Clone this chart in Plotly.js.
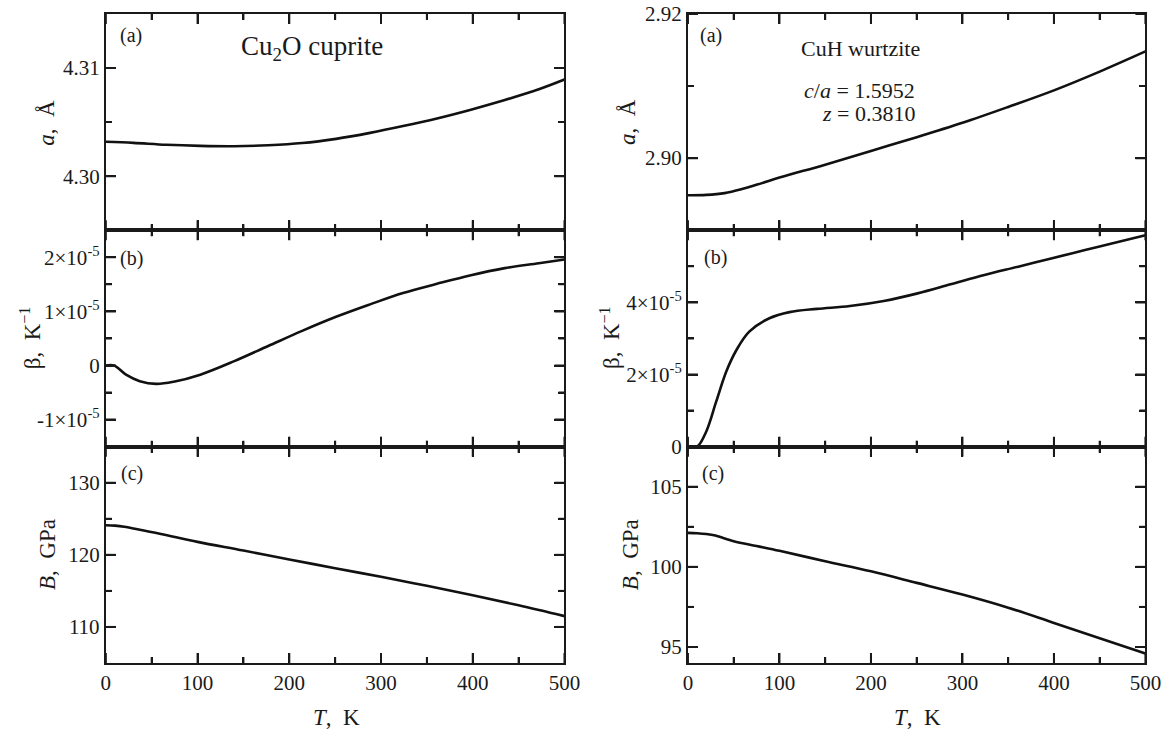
<!DOCTYPE html>
<html>
<head>
<meta charset="utf-8">
<script src="https://cdn.plot.ly/plotly-3.0.1.min.js"></script>
<style>
html,body{margin:0;padding:0;background:#fff;}
#wrap{position:relative;width:1176px;height:731px;background:#fff;}
.pane{position:absolute;left:0;top:0;width:1176px;height:731px;}
</style>
</head>
<body>
<div id="wrap"></div>
<script>
// ---------- Data ----------
// Cu2O cuprite
const T_aL = [0, 30, 66, 103, 140, 177, 214, 251, 288, 324, 361, 398, 435, 472, 500];
const a_L  = [4.30318, 4.30308, 4.30290, 4.30280, 4.30277, 4.30286, 4.30306, 4.30345, 4.30400, 4.30463, 4.30534, 4.30615, 4.30704, 4.30803, 4.30893];

const T_bL = [0, 9, 22, 37, 55, 74, 103, 140, 177, 214, 251, 288, 324, 361, 398, 435, 472, 500];
const beta_L = [0, 0, -0.17e-5, -0.29e-5, -0.34e-5, -0.30e-5, -0.17e-5, 0.08e-5, 0.36e-5, 0.64e-5, 0.90e-5, 1.13e-5, 1.34e-5, 1.51e-5, 1.67e-5, 1.80e-5, 1.89e-5, 1.96e-5];

const T_cL = [0, 10, 20, 40, 60, 100, 150, 200, 250, 300, 350, 400, 450, 500];
const B_L  = [124.1, 124.05, 123.9, 123.4, 122.9, 121.8, 120.6, 119.35, 118.15, 116.95, 115.7, 114.4, 113.0, 111.5];

// CuH wurtzite
const T_aR = [0, 20, 40, 60, 80, 100, 150, 200, 250, 300, 350, 400, 450, 500];
const a_R  = [2.89486, 2.89490, 2.89515, 2.89575, 2.89650, 2.89730, 2.89910, 2.90100, 2.90290, 2.90490, 2.90710, 2.90940, 2.91200, 2.91480];

const T_bR = [0, 10, 20, 31, 42, 53, 67, 89, 111, 141, 177, 214, 251, 287, 324, 361, 397, 434, 471, 500];
const beta_R = [0, 0, 0.42e-5, 1.26e-5, 2.09e-5, 2.68e-5, 3.19e-5, 3.56e-5, 3.73e-5, 3.82e-5, 3.90e-5, 4.04e-5, 4.25e-5, 4.50e-5, 4.76e-5, 4.99e-5, 5.22e-5, 5.45e-5, 5.68e-5, 5.86e-5];

const T_cR = [0, 10, 20, 30, 50, 75, 100, 150, 200, 250, 300, 350, 400, 450, 500];
const B_R  = [102.12, 102.1, 102.05, 101.95, 101.6, 101.3, 101.0, 100.35, 99.72, 99.0, 98.27, 97.45, 96.5, 95.55, 94.6];

// Tick values and labels
const xTickVals = [0, 100, 200, 300, 400, 500];
const xTickText = ['0', '100', '200', '300', '400', '500'];
const xMinor = [50, 150, 250, 350, 450];

const yA_L_vals = [4.30, 4.31], yA_L_text = ['4.30', '4.31'], yA_L_minor = [4.305];
const yB_L_vals = [-1e-5, 0, 1e-5, 2e-5], yB_L_text = ['-1\u00d710<sup>-5</sup>', '0', '1\u00d710<sup>-5</sup>', '2\u00d710<sup>-5</sup>'], yB_L_minor = [-0.5e-5, 0.5e-5, 1.5e-5];
const yC_L_vals = [110, 120, 130], yC_L_text = ['110', '120', '130'], yC_L_minor = [115, 125];

const yA_R_vals = [2.90, 2.92], yA_R_text = ['2.90', '2.92'], yA_R_minor = [2.91];
const yB_R_vals = [0, 2e-5, 4e-5], yB_R_text = ['0', '2\u00d710<sup>-5</sup>', '4\u00d710<sup>-5</sup>'], yB_R_minor = [1e-5, 3e-5, 5e-5];
const yC_R_vals = [95, 100, 105], yC_R_text = ['95', '100', '105'], yC_R_minor = [97.5, 102.5];

// ---------- Layout helpers ----------
const W = 1176, H = 731;
const FONT = 'Liberation Serif, serif';
const INK = '#1a1a1a';
const px = x => x / W;
const py = y => 1 - y / H;
const r3 = v => Math.round(v * 1000) / 1000;

const xDomL = [0.090, 0.480], xDomR = [0.585, 0.974];
const yDomA = [0.685, 0.981], yDomB = [0.389, 0.685], yDomC = [0.093, 0.389];

function xAxis(domain, showLabels) {
  return {
    domain: domain, anchor: 'y', range: [0, 500],
    tickmode: 'array', tickvals: xTickVals, ticktext: xTickText,
    showticklabels: showLabels,
    ticks: 'inside', ticklen: 10, tickwidth: 2, tickcolor: INK,
    minor: {tickmode: 'array', tickvals: xMinor, ticks: 'inside', ticklen: 6},
    showline: true, linewidth: 2, linecolor: INK, mirror: 'ticks',
    showgrid: false, zeroline: false,
    tickfont: {family: FONT, size: 21, color: INK}
  };
}
function yAxis(domain, range, vals, text, minor) {
  return {
    domain: domain, anchor: 'x', range: range,
    tickmode: 'array', tickvals: vals, ticktext: text,
    ticks: 'inside', ticklen: 10, tickwidth: 2, tickcolor: INK,
    minor: {tickmode: 'array', tickvals: minor, ticks: 'inside', ticklen: 6},
    showline: true, linewidth: 2, linecolor: INK, mirror: 'ticks',
    showgrid: false, zeroline: false,
    tickfont: {family: FONT, size: 21, color: INK}
  };
}

// Tick marks on all four sides, placed through the axes' own scales
function tickMarks(yMajor, yMinorVals) {
  const s = [];
  const add = o => s.push(Object.assign({type: 'line', layer: 'above', line: {color: INK, width: 2}}, o));
  const xT = (v, len) => {
    add({xref: 'x', yref: 'y domain', ysizemode: 'pixel', yanchor: 0, x0: v, x1: v, y0: 0, y1: len});
    add({xref: 'x', yref: 'y domain', ysizemode: 'pixel', yanchor: 1, x0: v, x1: v, y0: 0, y1: -len});
  };
  const yT = (v, len) => {
    add({xref: 'x domain', yref: 'y', xsizemode: 'pixel', xanchor: 0, y0: v, y1: v, x0: 0, x1: len});
    add({xref: 'x domain', yref: 'y', xsizemode: 'pixel', xanchor: 1, y0: v, y1: v, x0: 0, x1: -len});
  };
  xTickVals.forEach(v => xT(v, 10));
  xMinor.forEach(v => xT(v, 6));
  yMajor.forEach(v => yT(v, 10));
  yMinorVals.forEach(v => yT(v, 6));
  return s;
}

const panels = [
  {T: T_aL, v: a_L,    xd: xDomL, yd: yDomA, yr: [4.295, 4.315],   yv: yA_L_vals, yt: yA_L_text, ym: yA_L_minor, lab: false},
  {T: T_bL, v: beta_L, xd: xDomL, yd: yDomB, yr: [-1.5e-5, 2.5e-5], yv: yB_L_vals, yt: yB_L_text, ym: yB_L_minor, lab: false},
  {T: T_cL, v: B_L,    xd: xDomL, yd: yDomC, yr: [105, 135],       yv: yC_L_vals, yt: yC_L_text, ym: yC_L_minor, lab: true},
  {T: T_aR, v: a_R,    xd: xDomR, yd: yDomA, yr: [2.89, 2.92],     yv: yA_R_vals, yt: yA_R_text, ym: yA_R_minor, lab: false},
  {T: T_bR, v: beta_R, xd: xDomR, yd: yDomB, yr: [0, 6e-5],        yv: yB_R_vals, yt: yB_R_text, ym: yB_R_minor, lab: false},
  {T: T_cR, v: B_R,    xd: xDomR, yd: yDomC, yr: [94, 107.5],      yv: yC_R_vals, yt: yC_R_text, ym: yC_R_minor, lab: true}
];

function ann(text, x, y, size, opts) {
  return Object.assign({text: text, x: r3(px(x)), y: r3(py(y)), xref: 'paper', yref: 'paper',
    showarrow: false, xanchor: 'center', yanchor: 'middle',
    font: {family: FONT, size: size, color: INK}}, opts || {});
}

const annotations = [
  ann('(a)', 130, 36, 20), ann('(b)', 132, 258, 20), ann('(c)', 132, 474, 20),
  ann('(a)', 712, 36, 20), ann('(b)', 715, 257, 20), ann('(c)', 713, 474, 20),
  ann('Cu<sub>2</sub>O cuprite', 312, 48, 27),
  ann('CuH wurtzite', 861, 49, 22),
  ann('<i>c</i>/<i>a</i> = 1.5952', 917, 91, 22, {xanchor: 'right'}),
  ann('<i>z</i> = 0.3810', 917, 113, 22, {xanchor: 'right'}),
  ann('<i>a</i>,&nbsp;&nbsp;\u00c5', 47, 123, 23, {textangle: -90}),
  ann('\u03b2,&nbsp;&nbsp;K<sup>\u22121</sup>', 30, 338, 23, {textangle: -90}),
  ann('<i>B</i>,&nbsp;&nbsp;GPa', 48, 555, 23, {textangle: -90}),
  ann('<i>a</i>,&nbsp;&nbsp;\u00c5', 627, 122, 23, {textangle: -90}),
  ann('\u03b2,&nbsp;&nbsp;K<sup>\u22121</sup>', 610, 338, 23, {textangle: -90}),
  ann('<i>B</i>,&nbsp;&nbsp;GPa', 630, 555, 23, {textangle: -90}),
  ann('<i>T</i>,&nbsp;&nbsp;K', 336, 718, 23),
  ann('<i>T</i>,&nbsp;&nbsp;K', 917, 718, 23)
];

const config = {displayModeBar: false};
const wrap = document.getElementById('wrap');

// Each panel is its own single-subplot Plotly figure, stacked on one canvas
panels.forEach(function (p) {
  const div = document.createElement('div');
  div.className = 'pane';
  wrap.appendChild(div);
  Plotly.newPlot(div, [{
    x: p.T, y: p.v, type: 'scatter', mode: 'lines',
    line: {color: '#111', width: 2.6, shape: 'spline'}
  }], {
    width: W, height: H,
    margin: {l: 0, r: 0, t: 0, b: 0},
    paper_bgcolor: 'rgba(0,0,0,0)', plot_bgcolor: 'rgba(0,0,0,0)',
    showlegend: false,
    font: {family: FONT, color: INK},
    xaxis: xAxis(p.xd, p.lab),
    yaxis: yAxis(p.yd, p.yr, p.yv, p.yt, p.ym),
    shapes: tickMarks(p.yv, p.ym)
  }, config);
});

// Text pane: panel letters, material labels and axis titles
const textDiv = document.createElement('div');
textDiv.className = 'pane';
wrap.appendChild(textDiv);
Plotly.newPlot(textDiv, [], {
  width: W, height: H,
  margin: {l: 0, r: 0, t: 0, b: 0},
  paper_bgcolor: 'rgba(0,0,0,0)', plot_bgcolor: 'rgba(0,0,0,0)',
  showlegend: false,
  font: {family: FONT, color: INK},
  xaxis: {visible: false}, yaxis: {visible: false},
  annotations: annotations
}, config);
</script>
</body>
</html>
